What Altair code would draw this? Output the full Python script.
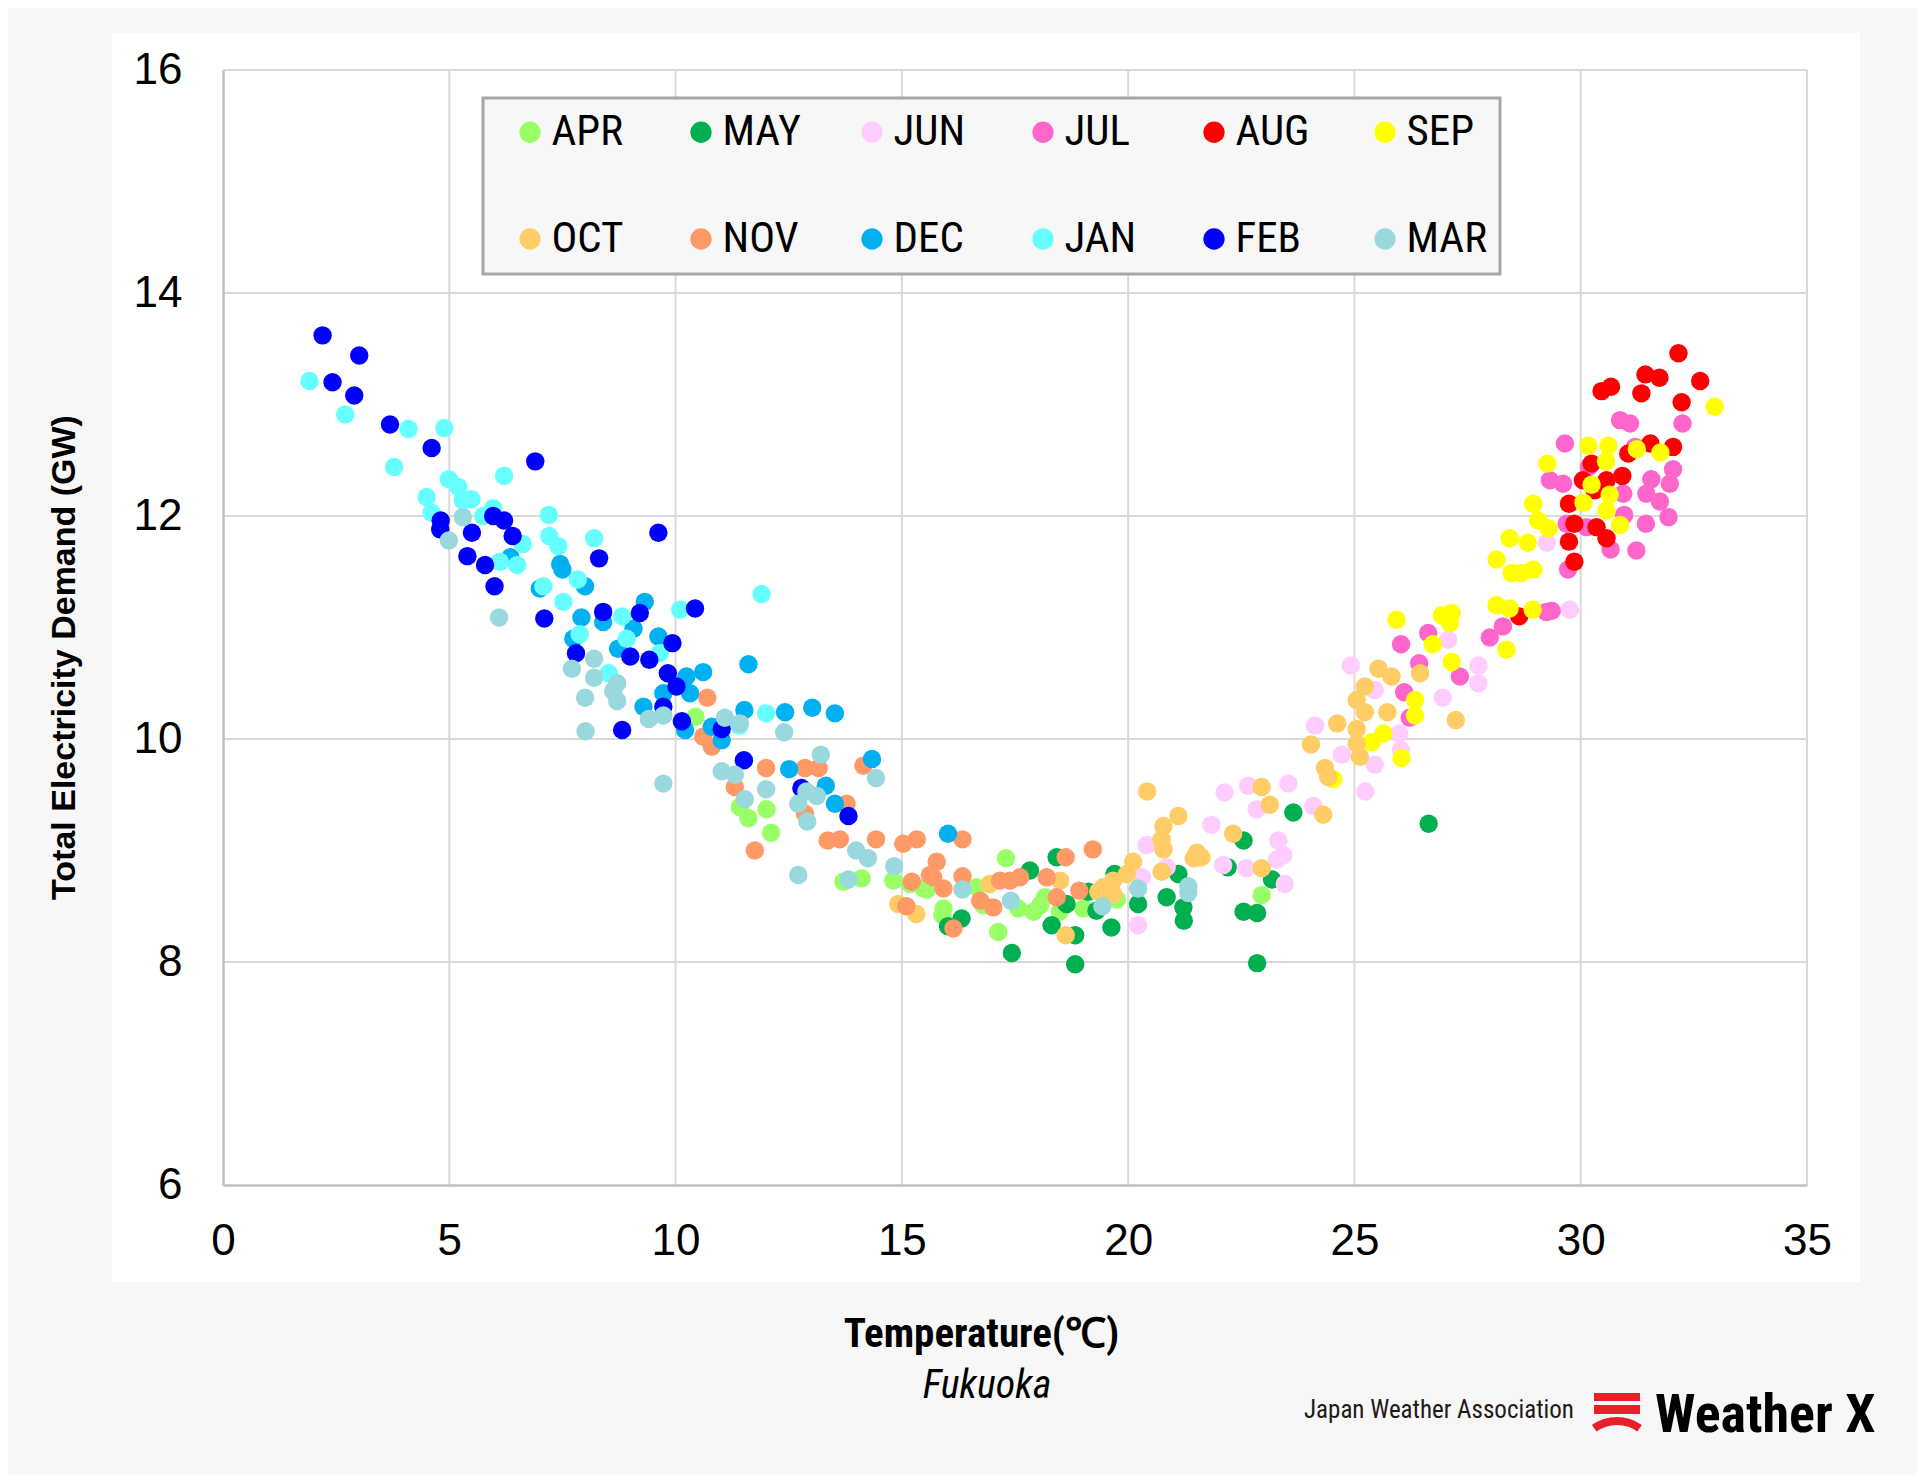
import altair as alt
import pandas as pd

NARROW = "Liberation Sans Narrow, Arial Narrow, Roboto Condensed, Liberation Sans, sans-serif"
SANS = "Liberation Sans, Arial, sans-serif"

months = ["APR", "MAY", "JUN", "JUL", "AUG", "SEP", "OCT", "NOV", "DEC", "JAN", "FEB", "MAR"]
colors = ["#99ff66", "#00b050", "#ffccff", "#ff66cc", "#ff0000", "#ffff00",
          "#ffcc66", "#ff9966", "#00b0f0", "#66ffff", "#0000ff", "#99d9de"]

x_ticks = [0, 5, 10, 15, 20, 25, 30, 35]
y_ticks = [6, 8, 10, 12, 14, 16]
x_grid = [5, 10, 15, 20, 25, 30, 35]
y_grid = [8, 10, 12, 14, 16]

# (temperature degC, demand GW) per month
APR = [(10.44, 10.20), (11.42, 9.39), (12.01, 9.37), (11.61, 9.29), (12.11, 9.16), (13.71, 8.72),
       (14.11, 8.75), (14.81, 8.73), (15.48, 8.66), (15.9, 8.42), (15.18, 8.70), (15.55, 8.65),
       (15.92, 8.48), (16.65, 8.67), (16.80, 8.51), (17.13, 8.27), (17.30, 8.93), (17.57, 8.48),
       (17.91, 8.45), (18.06, 8.51), (18.16, 8.58), (18.49, 8.45), (19.01, 8.48), (19.75, 8.56),
       (22.95, 8.60)]
MAY = [(17.83, 8.82), (18.42, 8.94), (16.32, 8.39), (16.02, 8.32), (17.43, 8.08), (18.31, 8.33),
       (18.83, 8.24), (18.83, 7.98), (18.64, 8.52), (19.30, 8.46), (19.63, 8.31), (19.7, 8.79),
       (20.22, 8.52), (20.85, 8.58), (21.11, 8.79), (21.22, 8.49), (21.23, 8.37), (22.55, 9.09),
       (23.65, 9.34), (22.55, 8.45), (22.85, 8.44), (22.85, 7.99), (23.18, 8.74), (22.2, 8.85),
       (19.12, 8.63), (26.64, 9.24)]
JUN = [(20.41, 9.05), (20.22, 8.33), (20.3, 8.76), (21.84, 9.23), (22.13, 9.52), (22.65, 9.58),
       (22.84, 9.37), (23.54, 9.60), (23.32, 9.09), (23.43, 8.96), (23.29, 8.92), (22.10, 8.87),
       (22.61, 8.84), (23.46, 8.70), (20.85, 8.85), (24.09, 9.40), (24.92, 10.66), (24.13, 10.12),
       (24.72, 9.86), (25.45, 9.77), (25.24, 9.53), (25.45, 10.44), (25.99, 10.05), (26.03, 9.90),
       (26.95, 10.37), (27.74, 10.66), (27.74, 10.50), (27.07, 10.89), (29.25, 11.76), (29.76, 11.16)]
JUL = [(26.03, 10.85), (26.63, 10.95), (26.43, 10.68), (27.33, 10.56), (26.10, 10.42), (26.22, 10.19),
       (27.99, 10.91), (28.28, 11.01), (29.24, 11.14), (29.65, 12.65), (30.87, 12.86), (31.09, 12.83),
       (32.25, 12.83), (29.32, 12.32), (29.61, 12.29), (32.04, 12.42), (31.56, 12.33), (31.97, 12.29),
       (31.45, 12.20), (31.75, 12.13), (30.94, 12.2), (30.18, 12.44), (31.94, 11.99), (31.44, 11.93),
       (30.96, 12.01), (29.69, 11.93), (30.13, 11.9), (30.66, 11.70), (31.23, 11.69), (29.72, 11.52),
       (29.36, 11.15), (31.2, 12.62)]
AUG = [(28.64, 11.10), (32.16, 13.46), (32.64, 13.21), (31.43, 13.27), (31.74, 13.24), (31.34, 13.10),
       (32.23, 13.02), (30.46, 13.12), (30.67, 13.16), (31.54, 12.65), (32.04, 12.62), (31.05, 12.56),
       (30.24, 12.47), (30.92, 12.36), (30.05, 12.32), (30.57, 12.32), (30.31, 12.23), (29.74, 12.11),
       (29.86, 11.93), (30.35, 11.90), (30.57, 11.80), (29.74, 11.77), (29.86, 11.59)]
SEP = [(25.93, 11.07), (26.93, 11.11), (27.15, 11.13), (27.11, 11.04), (26.73, 10.85), (27.15, 10.69),
       (26.34, 10.35), (26.34, 10.21), (25.64, 10.05), (25.38, 9.97), (26.04, 9.83), (24.53, 9.64),
       (28.14, 11.20), (28.43, 11.17), (28.94, 11.16), (28.36, 10.80), (32.96, 12.98), (30.17, 12.63),
       (30.61, 12.63), (31.24, 12.60), (31.76, 12.57), (30.56, 12.49), (29.26, 12.47), (30.24, 12.28),
       (30.64, 12.19), (30.06, 12.12), (30.57, 12.05), (28.95, 12.11), (29.06, 11.96), (29.29, 11.89),
       (30.87, 11.92), (28.43, 11.80), (28.83, 11.76), (28.14, 11.61), (28.47, 11.49), (28.69, 11.49),
       (28.95, 11.52)]
OCT = [(14.92, 8.52), (15.32, 8.43), (20.42, 9.53), (21.11, 9.31), (20.78, 9.22), (20.74, 9.10),
       (20.78, 9.01), (20.11, 8.90), (19.97, 8.79), (19.67, 8.73), (19.45, 8.67), (19.67, 8.61),
       (19.34, 8.63), (18.5, 8.73), (18.62, 8.24), (20.74, 8.81), (21.52, 8.98), (21.62, 8.94),
       (21.45, 8.93), (22.32, 9.15), (22.95, 9.57), (23.13, 9.41), (22.95, 8.84), (16.94, 8.70),
       (24.31, 9.32), (24.04, 9.95), (24.35, 9.74), (24.42, 9.66), (24.62, 10.14), (25.05, 10.09),
       (25.05, 9.96), (25.12, 9.84), (25.23, 10.47), (25.05, 10.35), (25.23, 10.24), (25.53, 10.63),
       (25.82, 10.56), (25.73, 10.24), (26.45, 10.59), (27.24, 10.17)]
NOV = [(10.70, 10.37), (10.61, 10.02), (10.80, 9.93), (12.00, 9.74), (12.86, 9.74), (13.16, 9.74),
       (11.31, 9.57), (12.86, 9.33), (13.36, 9.09), (13.63, 9.1), (14.43, 9.1), (11.75, 9.0),
       (15.03, 9.06), (15.33, 9.1), (14.15, 9.76), (15.77, 8.90), (15.62, 8.78), (15.22, 8.72),
       (15.92, 8.66), (15.1, 8.5), (13.78, 9.42), (16.34, 9.10), (15.69, 8.76), (16.34, 8.77),
       (16.73, 8.55), (17.02, 8.49), (16.14, 8.30), (17.17, 8.73), (17.61, 8.76), (17.39, 8.73),
       (18.20, 8.76), (18.42, 8.58), (18.62, 8.94), (18.92, 8.64), (19.22, 9.01)]
DEC = [(7.45, 11.57), (7.5, 11.52), (8.00, 11.37), (7.0, 11.35), (7.92, 11.09), (8.40, 11.05),
       (9.32, 11.23), (9.07, 10.99), (8.73, 10.81), (9.62, 10.92), (7.74, 10.9), (9.73, 10.41),
       (9.29, 10.29), (10.24, 10.56), (10.21, 10.08), (11.61, 10.67), (10.61, 10.60), (10.32, 10.41),
       (11.52, 10.26), (12.42, 10.24), (13.02, 10.28), (13.52, 10.23), (11.02, 9.99), (10.80, 10.11),
       (12.51, 9.73), (13.32, 9.58), (13.52, 9.42), (14.34, 9.82), (16.02, 9.15), (6.35, 11.63)]
JAN = [(1.91, 13.21), (2.70, 12.91), (4.10, 12.78), (4.89, 12.79), (3.78, 12.44), (4.99, 12.33),
       (5.20, 12.26), (5.49, 12.15), (5.30, 12.14), (4.50, 12.17), (4.61, 12.03), (5.97, 12.07),
       (5.75, 12.0), (6.21, 12.36), (6.62, 11.75), (6.12, 11.59), (6.50, 11.56), (7.20, 12.01),
       (7.21, 11.82), (7.41, 11.73), (8.20, 11.80), (7.08, 11.37), (7.84, 11.43), (7.52, 11.23),
       (8.82, 11.10), (8.92, 10.90), (7.88, 10.94), (10.10, 11.16), (8.52, 10.59), (9.65, 10.77),
       (11.90, 11.30), (12.0, 10.23), (11.41, 10.12)]
FEB = [(2.20, 13.62), (3.01, 13.44), (2.42, 13.20), (2.90, 13.08), (3.69, 12.82), (4.61, 12.61),
       (6.90, 12.49), (4.81, 11.96), (4.80, 11.88), (5.50, 11.85), (5.97, 12.00), (6.21, 11.96),
       (6.40, 11.82), (5.40, 11.64), (5.79, 11.56), (6.00, 11.37), (9.62, 11.85), (8.31, 11.62),
       (7.10, 11.08), (8.40, 11.14), (9.21, 11.13), (9.93, 10.86), (10.43, 11.17), (7.80, 10.77),
       (9.00, 10.74), (9.42, 10.71), (9.83, 10.59), (10.02, 10.47), (9.73, 10.29), (10.14, 10.16),
       (8.82, 10.08), (11.02, 10.09), (11.51, 9.81), (12.78, 9.56), (13.82, 9.31)]
MAR = [(5.30, 11.99), (4.99, 11.78), (6.10, 11.09), (8.20, 10.72), (7.71, 10.63), (8.20, 10.55),
       (8.71, 10.50), (8.62, 10.43), (8.71, 10.34), (8.00, 10.37), (8.01, 10.07), (9.41, 10.18),
       (9.73, 10.21), (9.73, 9.6), (11.09, 10.19), (11.42, 10.14), (12.40, 10.06), (13.21, 9.86),
       (11.02, 9.71), (11.31, 9.68), (12.0, 9.55), (11.53, 9.46), (12.89, 9.53), (13.12, 9.49),
       (12.71, 9.42), (12.91, 9.26), (14.43, 9.65), (13.99, 9.00), (14.25, 8.93), (12.71, 8.78),
       (14.83, 8.86), (13.82, 8.74), (16.34, 8.65), (17.41, 8.55), (19.43, 8.50), (20.22, 8.66),
       (21.33, 8.68), (21.33, 8.62)]

series = [APR, MAY, JUN, JUL, AUG, SEP, OCT, NOV, DEC, JAN, FEB, MAR]

rows = []
for i, (m, pts) in enumerate(zip(months, series)):
    for t, d in pts:
        rows.append({"month": m, "temp": t, "demand": d, "k": i})
df = pd.DataFrame(rows)

W, H = 1584, 1115

xscale = alt.Scale(domain=[0, 35], nice=False, zero=False)
yscale = alt.Scale(domain=[6, 16], nice=False, zero=False)

xaxis = alt.Axis(values=x_ticks, grid=False, ticks=False, domainColor="#bfbfbf", domainWidth=2.5,
                 labelFont=SANS, labelFontSize=44, labelColor="#000000", labelPadding=34,
                 labelFlush=False, labelOverlap=False,
                 title="Temperature(℃)", titleFont=NARROW, titleFontSize=41, titleFontWeight="bold",
                 titleColor="#000000", titleX=758, titleY=161, titleAlign="center",
                 titleBaseline="alphabetic", zindex=1)
yaxis = alt.Axis(values=y_ticks, grid=False, ticks=False, domainColor="#bfbfbf", domainWidth=2.5,
                 labelFont=SANS, labelFontSize=44, labelColor="#000000", labelPadding=41,
                 labelFlush=False, labelOverlap=False,
                 title="Total Electricity Demand (GW)", titleFont=SANS, titleFontSize=34,
                 titleFontWeight="bold", titleColor="#000000", titleX=-159, titleY=587,
                 titleAngle=270, titleBaseline="middle", titleAlign="center", zindex=1)

one = pd.DataFrame({"k": [0]})

panel = alt.Chart(one).mark_rect(color="#ffffff").encode(
    x=alt.value(-111), x2=alt.value(1637), y=alt.value(-37), y2=alt.value(1212))

vgrid = alt.Chart(pd.DataFrame({"g": x_grid})).mark_rule(color="#d9d9d9", strokeWidth=2).encode(
    x=alt.X("g:Q", scale=xscale, axis=xaxis),
    y=alt.YDatum(6, scale=yscale, axis=yaxis), y2=alt.Y2Datum(16))

hgrid = alt.Chart(pd.DataFrame({"g": y_grid})).mark_rule(color="#d9d9d9", strokeWidth=2).encode(
    y=alt.Y("g:Q", scale=yscale, axis=yaxis),
    x=alt.XDatum(0, scale=xscale, axis=xaxis), x2=alt.X2Datum(35))

legend = alt.Legend(title=None, orient="none", legendX=260, legendY=28, direction="horizontal",
                    columns=6, gridAlign="all", symbolType="circle", symbolSize=452,
                    symbolStrokeWidth=0, symbolOpacity=1, symbolOffset=13,
                    labelFont=NARROW, labelFontSize=43, labelColor="#000000", labelOffset=0,
                    labelLimit=400, padding=12.5, fillColor="#f7f7f7", strokeColor="#a6a6a6",
                    rowPadding=63, columnPadding=34)

points = alt.Chart(df).mark_circle(size=340, opacity=1).encode(
    x=alt.X("temp:Q", scale=xscale, axis=xaxis),
    y=alt.Y("demand:Q", scale=yscale, axis=yaxis),
    color=alt.Color("month:N", scale=alt.Scale(domain=months, range=colors), legend=legend),
    order=alt.Order("k:Q"))

place = alt.Chart(one).mark_text(text="Fukuoka", font=NARROW, fontSize=40, fontStyle="italic",
                                 color="#000000", align="center", baseline="alphabetic").encode(
    x=alt.value(764), y=alt.value(1328))

red = "#e8202a"
jwa = alt.Chart(one).mark_text(text="Japan Weather Association", font=NARROW, fontSize=25,
                               color="#231815", align="left", baseline="alphabetic").encode(
    x=alt.value(1081), y=alt.value(1348))
wx = alt.Chart(one).mark_text(text="Weather X", font=NARROW, fontSize=54, fontWeight="bold",
                              color="#000000", align="left", baseline="alphabetic").encode(
    x=alt.value(1432), y=alt.value(1362))
bar1 = alt.Chart(one).mark_rect(color=red).encode(
    x=alt.value(1371), x2=alt.value(1417), y=alt.value(1323), y2=alt.value(1331))
bar2 = alt.Chart(one).mark_rect(color=red).encode(
    x=alt.value(1371), x2=alt.value(1417), y=alt.value(1335), y2=alt.value(1344))
arc = alt.Chart(one).mark_arc(color=red, radius=43, radius2=35, theta=5.66, theta2=6.90).encode(
    x=alt.value(1394), y=alt.value(1390))

chart = alt.layer(panel, vgrid, hgrid, points, place, jwa, wx, bar1, bar2, arc).properties(
    width=W, height=H,
    padding={"left": 215, "top": 62, "right": 110, "bottom": 290},
    autosize=alt.AutoSizeParams(type="none"),
    background="#f7f7f7",
).configure_view(strokeOpacity=0).configure_legend(strokeWidth=3)

chart.save("out.html", embed_options={"renderer": "svg", "actions": False})
